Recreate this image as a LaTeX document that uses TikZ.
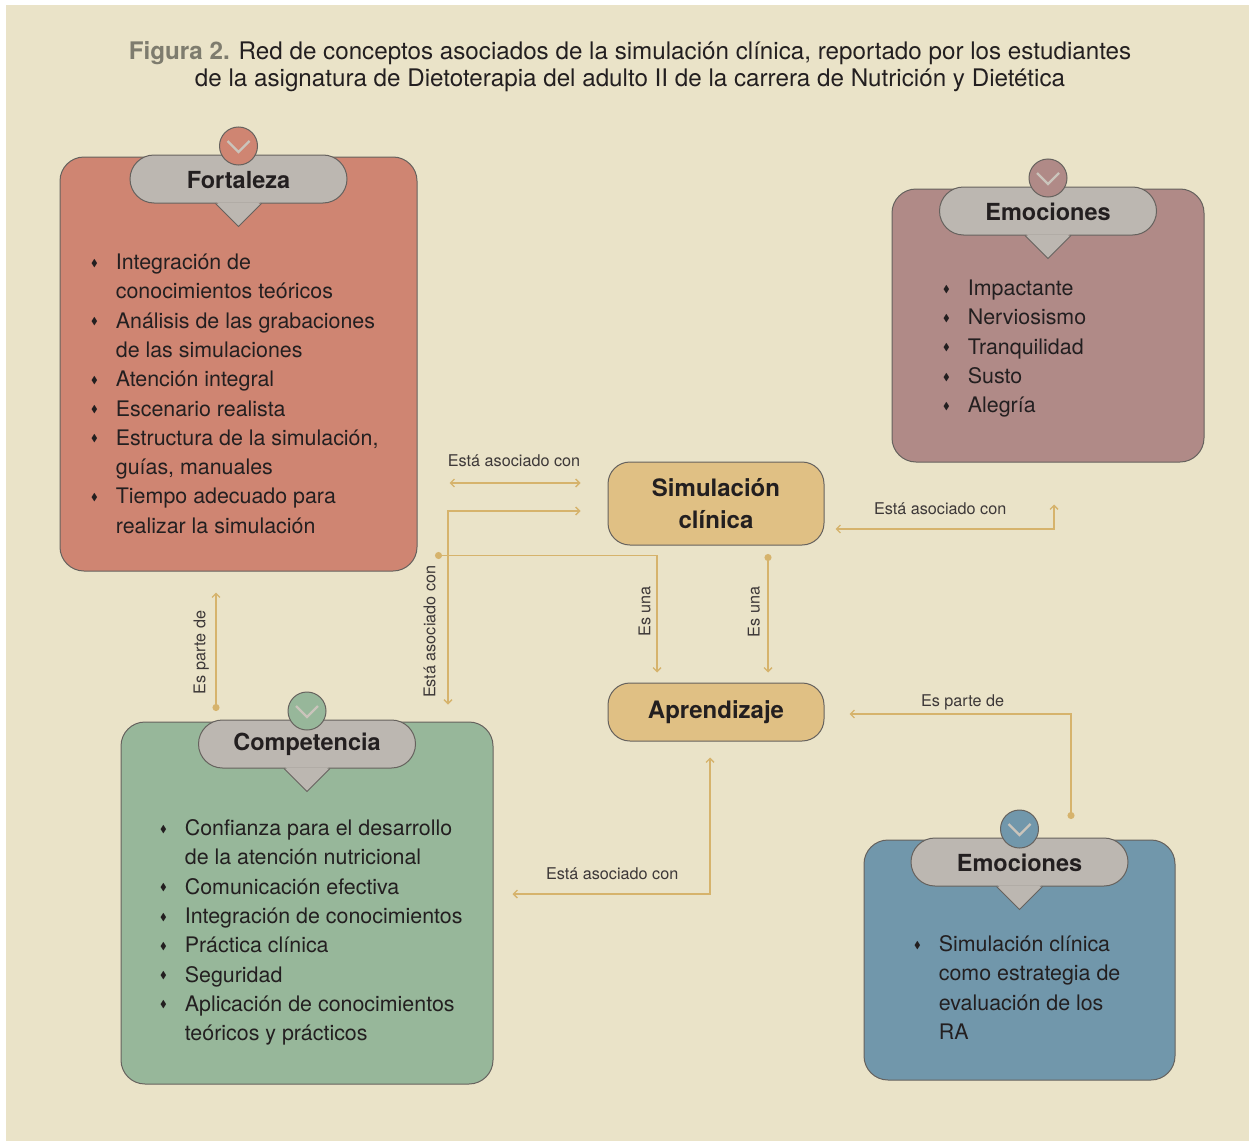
\documentclass[tikz,border=0pt]{standalone}
\usepackage{amssymb}
\usepackage{fontspec}
\setmainfont{TeX Gyre Heros}
\usetikzlibrary{positioning, arrows.meta}

\definecolor{paper}{HTML}{EAE3C8}
\definecolor{ink}{HTML}{231F20}
\definecolor{edge}{HTML}{66625E}
\definecolor{pillgray}{HTML}{BCB7B1}
\definecolor{chev}{HTML}{CAC4BB}
\definecolor{linkgold}{HTML}{D6B36C}
\definecolor{fortcol}{HTML}{CF8572}
\definecolor{emocol}{HTML}{B08A87}
\definecolor{simcol}{HTML}{E0C084}
\definecolor{compcol}{HTML}{97B79A}
\definecolor{evalcol}{HTML}{7197AB}
\definecolor{figgray}{HTML}{7E7C6E}
\definecolor{lblink}{HTML}{3D3838}

\newcommand{\bul}{\raisebox{0.3ex}{\fontsize{10}{10}\selectfont$\blacklozenge$}}

% header: pill, pointer and round badge
\newcommand{\headbox}[4]{%
  \node[headpill, below=-2pt of #2.north] (#1) {#3};
  \filldraw[fill=pillgray, draw=edge, line width=1pt] ([xshift=-23pt]#1.south) -- ([yshift=-23pt]#1.south) -- ([xshift=23pt]#1.south);
  \fill[pillgray] ([xshift=-21.5pt,yshift=1.2pt]#1.south) -- ([yshift=-21.5pt]#1.south) -- ([xshift=21.5pt,yshift=1.2pt]#1.south) -- cycle;
  \node[headdot, fill=#4, above=-11pt of #1.north] (#1dot) {};
}

\begin{document}
\begin{tikzpicture}[
		x=1pt, y=-1pt,
		card/.style={rectangle, draw=edge, line width=1pt, rounded corners=24pt},
		concept/.style={rectangle, draw=edge, line width=1pt, rounded corners=22pt, fill=simcol, minimum width=216pt, align=center, text=ink, font=\fontsize{24}{32}\selectfont\bfseries},
		headpill/.style={rectangle, rounded corners=24pt, draw=edge, line width=1pt, fill=pillgray, minimum width=217pt, minimum height=48pt, inner sep=0pt, text height=19pt, text=ink, font=\fontsize{23.5}{28}\selectfont\bfseries},
		headdot/.style={circle, draw=edge, line width=1pt, minimum size=38pt, inner sep=0pt, path picture={\draw[chev, line width=2.2pt] ([shift={(-11pt,5pt)}]path picture bounding box.center) -- ([shift={(0pt,-6pt)}]path picture bounding box.center) -- ([shift={(11pt,5pt)}]path picture bounding box.center);}},
		list/.style={anchor=base west, inner sep=0pt, text=ink, font=\fontsize{21.4}{29.3}\selectfont},
		link/.style={draw=linkgold, line width=1.3pt},
		lbl/.style={inner sep=0pt, text=lblink, font=\fontsize{16.2}{18}\selectfont},
		title/.style={align=center, text=ink, font=\fontsize{24.2}{27}\selectfont},
		>={Straight Barb[length=4pt,width=8pt]}
	]

	\useasboundingbox (0,0) rectangle (1249,1145);
	\fill[white] (0,0) rectangle (1249,1145);
	\fill[paper] (6,5) rectangle (1249,1141);

	\node[title] (ttl) at (630,67) {{\bfseries\color{figgray}Figura 2.} Red de conceptos asociados de la simulación clínica, reportado por los estudiantes\\de la asignatura de Dietoterapia del adulto II de la carrera de Nutrición y Dietética};

	% boxes
	\node[card, fill=fortcol, minimum width=357pt, minimum height=414pt] (fort) at (238.5,364) {};
	\node[card, fill=emocol, minimum width=312pt, minimum height=273pt] (emoT) at (1048,325.5) {};
	\node[concept, minimum height=83pt] (sim) at (716,503.5) {Simulación\\clínica};
	\node[concept, minimum height=58pt] (apr) at (716,712) {Aprendizaje};
	\node[card, fill=compcol, minimum width=372pt, minimum height=362pt] (comp) at (307,903) {};
	\node[card, fill=evalcol, minimum width=311pt, minimum height=240pt] (emoB) at (1019.5,960) {};

	\headbox{fortH}{fort}{Fortaleza}{fortcol}
	\headbox{emoTH}{emoT}{Emociones}{emocol}
	\headbox{compH}{comp}{Competencia}{compcol}
	\headbox{emoBH}{emoB}{Emociones}{evalcol}

	% lists
	\node[list] (fortL) at (91,269.5) {\begin{tabular}[t]{@{}l@{\hspace{18pt}}l@{}}
		\bul & Integración de\\ & conocimientos teóricos\\
		\bul & Análisis de las grabaciones\\ & de las simulaciones\\
		\bul & Atención integral\\
		\bul & Escenario realista\\
		\bul & Estructura de la simulación,\\ & guías, manuales\\
		\bul & Tiempo adecuado para\\ & realizar la simulación
	\end{tabular}};
	\node[list] (emoTL) at (943,295.5) {\begin{tabular}[t]{@{}l@{\hspace{18pt}}l@{}}
		\bul & Impactante\\
		\bul & Nerviosismo\\
		\bul & Tranquilidad\\
		\bul & Susto\\
		\bul & Alegría
	\end{tabular}};
	\node[list] (compL) at (160,835.5) {\begin{tabular}[t]{@{}l@{\hspace{18pt}}l@{}}
		\bul & Confianza para el desarrollo\\ & de la atención nutricional\\
		\bul & Comunicación efectiva\\
		\bul & Integración de conocimientos\\
		\bul & Práctica clínica\\
		\bul & Seguridad\\
		\bul & Aplicación de conocimientos\\ & teóricos y prácticos
	\end{tabular}};
	\node[list] (emoBL) at (914,951.5) {\begin{tabular}[t]{@{}l@{\hspace{18pt}}l@{}}
		\bul & Simulación clínica\\ & como estrategia de\\ & evaluación de los\\ & RA
	\end{tabular}};

	% connectors
	\draw[link, <->, shorten <=32pt, shorten >=27pt] ([yshift=20.5pt]fort.east |- sim.west) -- node[lbl, anchor=base, yshift=17pt, pos=0.508] {Está asociado con} ([yshift=20.5pt]sim.west);

	\draw[link, <->, shorten <=17pt, shorten >=27pt] ([xshift=141pt]comp.north) |- node[lbl, xshift=-12.7pt, rotate=90, anchor=base, pos=0.213] {Está asociado con} ([yshift=-7.5pt]sim.west);

	\draw[link, {Circle[length=7pt]}->, shorten >=10pt] ([xshift=17.5pt,yshift=16pt]fort.south east) -| node[lbl, xshift=-6.6pt, rotate=90, anchor=base, pos=0.72] {Es una} ([xshift=-59pt]apr.north);

	\draw[link, {Circle[length=7pt]}->, shorten <=8.5pt, shorten >=10pt] ([xshift=52pt]sim.south) -- node[lbl, xshift=-8.4pt, rotate=90, anchor=base, pos=0.486] {Es una} ([xshift=52pt]apr.north);

	\draw[link, <->, shorten <=42pt, shorten >=11pt] ([xshift=6pt]emoT.south) |- node[lbl, anchor=base, yshift=15pt, pos=0.748] {Está asociado con} ([yshift=-25.5pt]sim.east);

	\draw[link, {Circle[length=7pt]}->, shorten <=20.5pt, shorten >=25pt] ([xshift=51.5pt]emoB.north) |- node[lbl, anchor=base, yshift=8pt, pos=0.72] {Es parte de} ([yshift=-2pt]apr.east);

	\draw[link, <->, shorten <=16pt, shorten >=19pt] ([xshift=-6pt]apr.south) |- node[lbl, anchor=base, yshift=15pt, pos=0.726] {Está asociado con} ([yshift=9pt]comp.east);

	\draw[link, {Circle[length=7pt]}->, shorten <=10.5pt, shorten >=21pt] ([xshift=-91pt]comp.north) -- node[lbl, xshift=-10.7pt, rotate=90, anchor=base, pos=0.46] {Es parte de} ([xshift=-22.5pt]fort.south);

\end{tikzpicture}
\end{document}
